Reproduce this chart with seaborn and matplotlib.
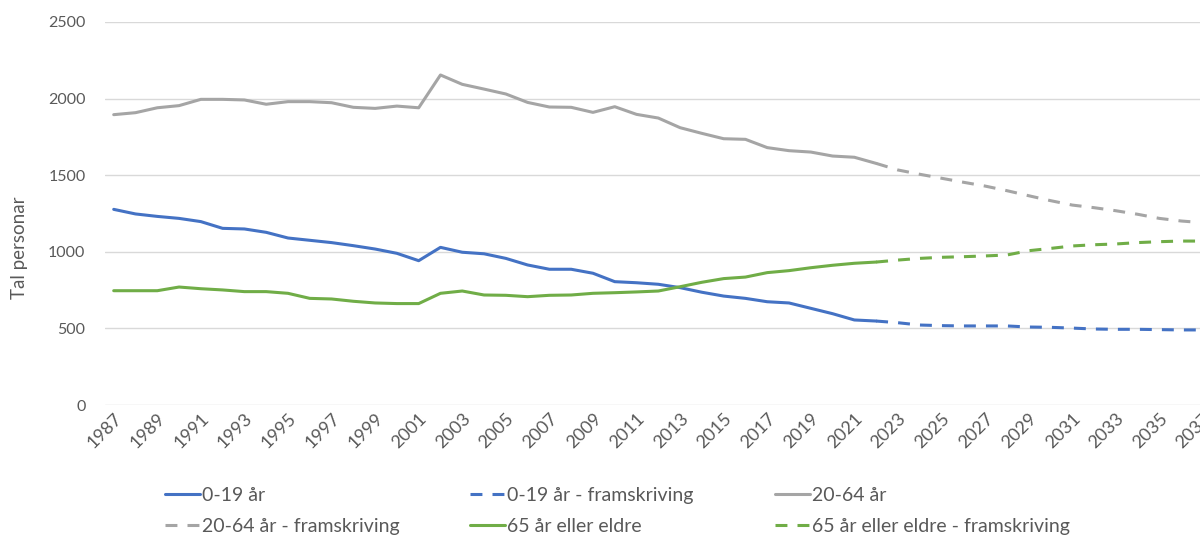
import pandas as pd
import seaborn as sns
import matplotlib.pyplot as plt

# historical values 1987-2022
years_hist = list(range(1987, 2023))
age_0_19 = [1277, 1247, 1231, 1218, 1197, 1153, 1149, 1127, 1090, 1075, 1060, 1040,
            1018, 990, 942, 1029, 997, 987, 957, 914, 886, 886, 860, 805, 798, 788,
            766, 736, 711, 696, 674, 666, 631, 596, 555, 548]
age_20_64 = [1895, 1908, 1940, 1954, 1995, 1995, 1991, 1963, 1980, 1980, 1973, 1943,
             1936, 1951, 1940, 2154, 2093, 2062, 2030, 1975, 1945, 1943, 1910, 1947,
             1897, 1873, 1810, 1773, 1738, 1734, 1680, 1660, 1651, 1625, 1617, 1577]
age_65 = [746, 746, 746, 770, 759, 751, 740, 740, 729, 696, 692, 677, 666, 662, 662,
          729, 744, 718, 716, 707, 716, 718, 729, 733, 738, 744, 772, 801, 825, 835,
          864, 877, 896, 912, 925, 933]

# projections 2022-2037
years_proj = list(range(2022, 2038))
proj_0_19 = [548, 537, 522, 518, 516, 516, 516, 509, 507, 502, 496, 494, 494, 492, 490, 490]
proj_20_64 = [1577, 1534, 1506, 1480, 1454, 1429, 1399, 1366, 1334, 1305, 1288, 1268,
              1245, 1218, 1201, 1190]
proj_65 = [933, 946, 957, 964, 968, 973, 979, 1007, 1022, 1038, 1046, 1051, 1060,
           1066, 1070, 1070]

tick_years = list(range(1987, 2038, 2))

blue = "#4472C4"
grey = "#A5A5A5"
green = "#70AD47"
text_col = "#595959"

sns.set_theme(style="white")
plt.rcParams['font.family'] = ['Lato', 'DejaVu Sans']

fig = plt.figure(figsize=(12, 5.36), dpi=100)
ax = fig.add_axes([0.0875, 0.2444, 0.924, 0.7146])

lw = 2.2
dash = (3.9, 3.3)
series = [
    (years_hist, age_0_19, "0-19 år", blue, None),
    (years_proj, proj_0_19, "0-19 år - framskriving", blue, dash),
    (years_hist, age_20_64, "20-64 år", grey, None),
    (years_proj, proj_20_64, "20-64 år - framskriving", grey, dash),
    (years_hist, age_65, "65 år eller eldre", green, None),
    (years_proj, proj_65, "65 år eller eldre - framskriving", green, dash),
]
handles = {}
for x, y, name, col, d in series:
    sns.lineplot(x=x, y=y, ax=ax, color=col, linewidth=lw, label=name)
    line = ax.get_lines()[-1]
    if d is not None:
        line.set_dashes(d)
    handles[name] = line

ax.set_xlim(1986.6, 2037.5)
ax.set_ylim(0, 2500)
ax.set_yticks([0, 500, 1000, 1500, 2000, 2500])
ax.set_xticks(tick_years)
ax.set_xticklabels([str(t) for t in tick_years], rotation=45, ha="right",
                   rotation_mode="anchor", fontsize=13, color=text_col)
ax.tick_params(axis="y", labelsize=11.5, labelcolor=text_col, length=0, pad=14)
ax.tick_params(axis="x", length=0, pad=4)
ax.grid(axis="y", color="#D9D9D9", linewidth=1)
ax.set_axisbelow(True)
for s in ax.spines.values():
    s.set_visible(False)
ax.set_xlabel("")
ax.set_ylabel("Tal personar", fontsize=13.5, color=text_col)
ax.yaxis.set_label_coords(-0.0694, 0.41)

ax.get_legend().remove()
# one small legend per column, so the columns sit at the same places as in Excel
columns = [
    (0.1375, ["0-19 år", "20-64 år - framskriving"]),
    (0.3917, ["0-19 år - framskriving", "65 år eller eldre"]),
    (0.6458, ["20-64 år", "65 år eller eldre - framskriving"]),
]
for xpos, names in columns:
    leg = fig.legend([handles[n] for n in names], names, loc="center left",
                     bbox_to_anchor=(xpos, 0.0466), frameon=False,
                     fontsize=14, handlelength=1.8, handletextpad=0.12,
                     labelspacing=0.72, borderpad=0, borderaxespad=0)
    for t in leg.get_texts():
        t.set_color(text_col)

fig.savefig("out.png", dpi=100)
plt.close()
